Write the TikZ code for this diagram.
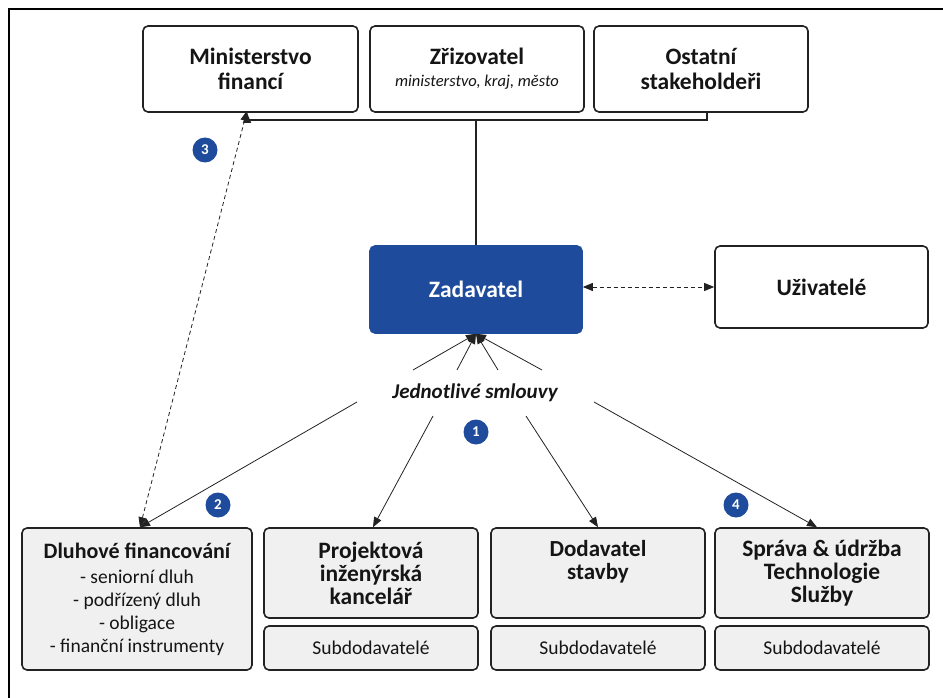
\documentclass[tikz,border=0pt]{standalone}
\usepackage{fontspec}
\setmainfont{Carlito}
\usetikzlibrary{arrows.meta}
\definecolor{zblue}{HTML}{1E4B9B}
\definecolor{boxgray}{HTML}{F0F0F0}
\definecolor{edge}{HTML}{222222}
\definecolor{txt}{HTML}{151515}
\lineskiplimit=-20pt
\begin{document}
\begin{tikzpicture}[x=1pt,y=-1pt,
 box/.style={draw=edge, line width=1.6pt, rounded corners=5pt, fill=white, inner sep=0pt, align=center, text=txt, font=\bfseries\fontsize{23.5}{25}\selectfont},
 graybox/.style={box, fill=boxgray},
 subbox/.style={graybox, font=\fontsize{19.5}{22}\selectfont},
 badge/.style={circle, fill=zblue, text=white, minimum size=25pt, inner sep=0pt, font=\bfseries\fontsize{15}{15}\selectfont},
 arr/.style={-{Triangle[length=10pt,width=8pt]}, line width=0.8pt, draw=edge},
 dasharr/.style={{Triangle[length=10pt,width=8pt]}-{Triangle[length=10pt,width=8pt]}, dash pattern=on 4pt off 3pt, line width=0.8pt, draw=edge},
]
\useasboundingbox (0,0) rectangle (943,698);
\draw[line width=1.5pt] (9,698) -- (9,9) -- (943,9);

% top row
\node[box, minimum width=215, minimum height=86] (mf) at (250.5,69) {Ministerstvo\\financí};
\node[box, minimum width=214, minimum height=86] (zr) at (477,69) {Zřizovatel\\[-3pt]{\normalfont\itshape\fontsize{16.5}{18}\selectfont ministerstvo, kraj, město}};
\node[box, minimum width=214, minimum height=86] (os) at (701,69) {Ostatní\\stakeholdeři};

% middle
\node[box, draw=zblue, fill=zblue, text=white, minimum width=212, minimum height=87] (zad) at (476,289.5) {Zadavatel};
\node[box, minimum width=213, minimum height=82] (uz) at (821.5,287) {Uživatelé};

% bottom row
\node[graybox, minimum width=230, minimum height=142, font=\bfseries\fontsize{22}{23}\selectfont] (dl) at (137,599)
 {Dluhové financování\\[2pt]{\normalfont\fontsize{19.5}{23}\selectfont - seniorní dluh}\\{\normalfont\fontsize{19.5}{23}\selectfont - podřízený dluh}\\{\normalfont\fontsize{19.5}{23}\selectfont - obligace}\\{\normalfont\fontsize{19.5}{23}\selectfont - finanční instrumenty}};
\node[graybox, minimum width=214, minimum height=90, font=\bfseries\fontsize{23.5}{23}\selectfont] (pi) at (371,573) {Projektová\\inženýrská\\kancelář};
\node[subbox, minimum width=214, minimum height=44] (pis) at (371,648) {Subdodavatelé};
\node[graybox, minimum width=214, minimum height=90] (do) at (598,573) {};
\node[font=\bfseries\fontsize{23}{23}\selectfont, text=txt, align=center] (dot) at (598,562) {Dodavatel\\stavby};
\node[subbox, minimum width=214, minimum height=44] (dos) at (598,648) {Subdodavatelé};
\node[graybox, minimum width=214, minimum height=90, font=\bfseries\fontsize{23.5}{23}\selectfont] (sp) at (822,573) {Správa \& údržba\\Technologie\\Služby};
\node[subbox, minimum width=214, minimum height=44] (sps) at (822,648) {Subdodavatelé};

% label
\node[font=\bfseries\itshape\fontsize{21}{22}\selectfont, text=txt] (js) at (475,393) {Jednotlivé smlouvy};

% badges
\node[badge] (b3) at (205,150) {3};
\node[badge] (b1) at (476,432) {1};
\node[badge] (b2) at (218,505) {2};
\node[badge] (b4) at (736,505) {4};

% top connectors
\coordinate (hl) at (476,120);
\draw[arr, line width=1.2pt] ([xshift=6pt]os.south) -- ([xshift=6pt]os.south |- hl) -- ([xshift=-3.5pt]mf.south |- hl) -- ([xshift=-3.5pt]mf.south);
\draw[line width=1.2pt, draw=edge] (zad.north) -- (zad.north |- hl);

% users
\draw[dasharr] (zad.east |- uz.west) -- (uz.west);

% converging contract lines
\coordinate (c1) at (413,370);
\coordinate (c2) at (457,370);
\coordinate (c3) at (498,370);
\coordinate (c4) at (542,370);
\foreach \c in {c1,c2,c3,c4} \draw[arr] (\c) -- (zad.south);

% outgoing contract lines
\coordinate (j1) at (357,402);
\coordinate (j2) at (433,416);
\coordinate (j3) at (526,416);
\coordinate (j4) at (594,402);
\draw[arr] (j1) -- ([xshift=3pt]dl.north);
\draw[arr] (j2) -- ([xshift=2pt]pi.north);
\draw[arr] (j3) -- (do.north);
\draw[arr] (j4) -- ([xshift=-5pt]sp.north);

% dashed to ministry
\draw[dasharr] ([xshift=3pt]dl.north) -- ([xshift=-3.5pt,yshift=2pt]mf.south);
\end{tikzpicture}
\end{document}
